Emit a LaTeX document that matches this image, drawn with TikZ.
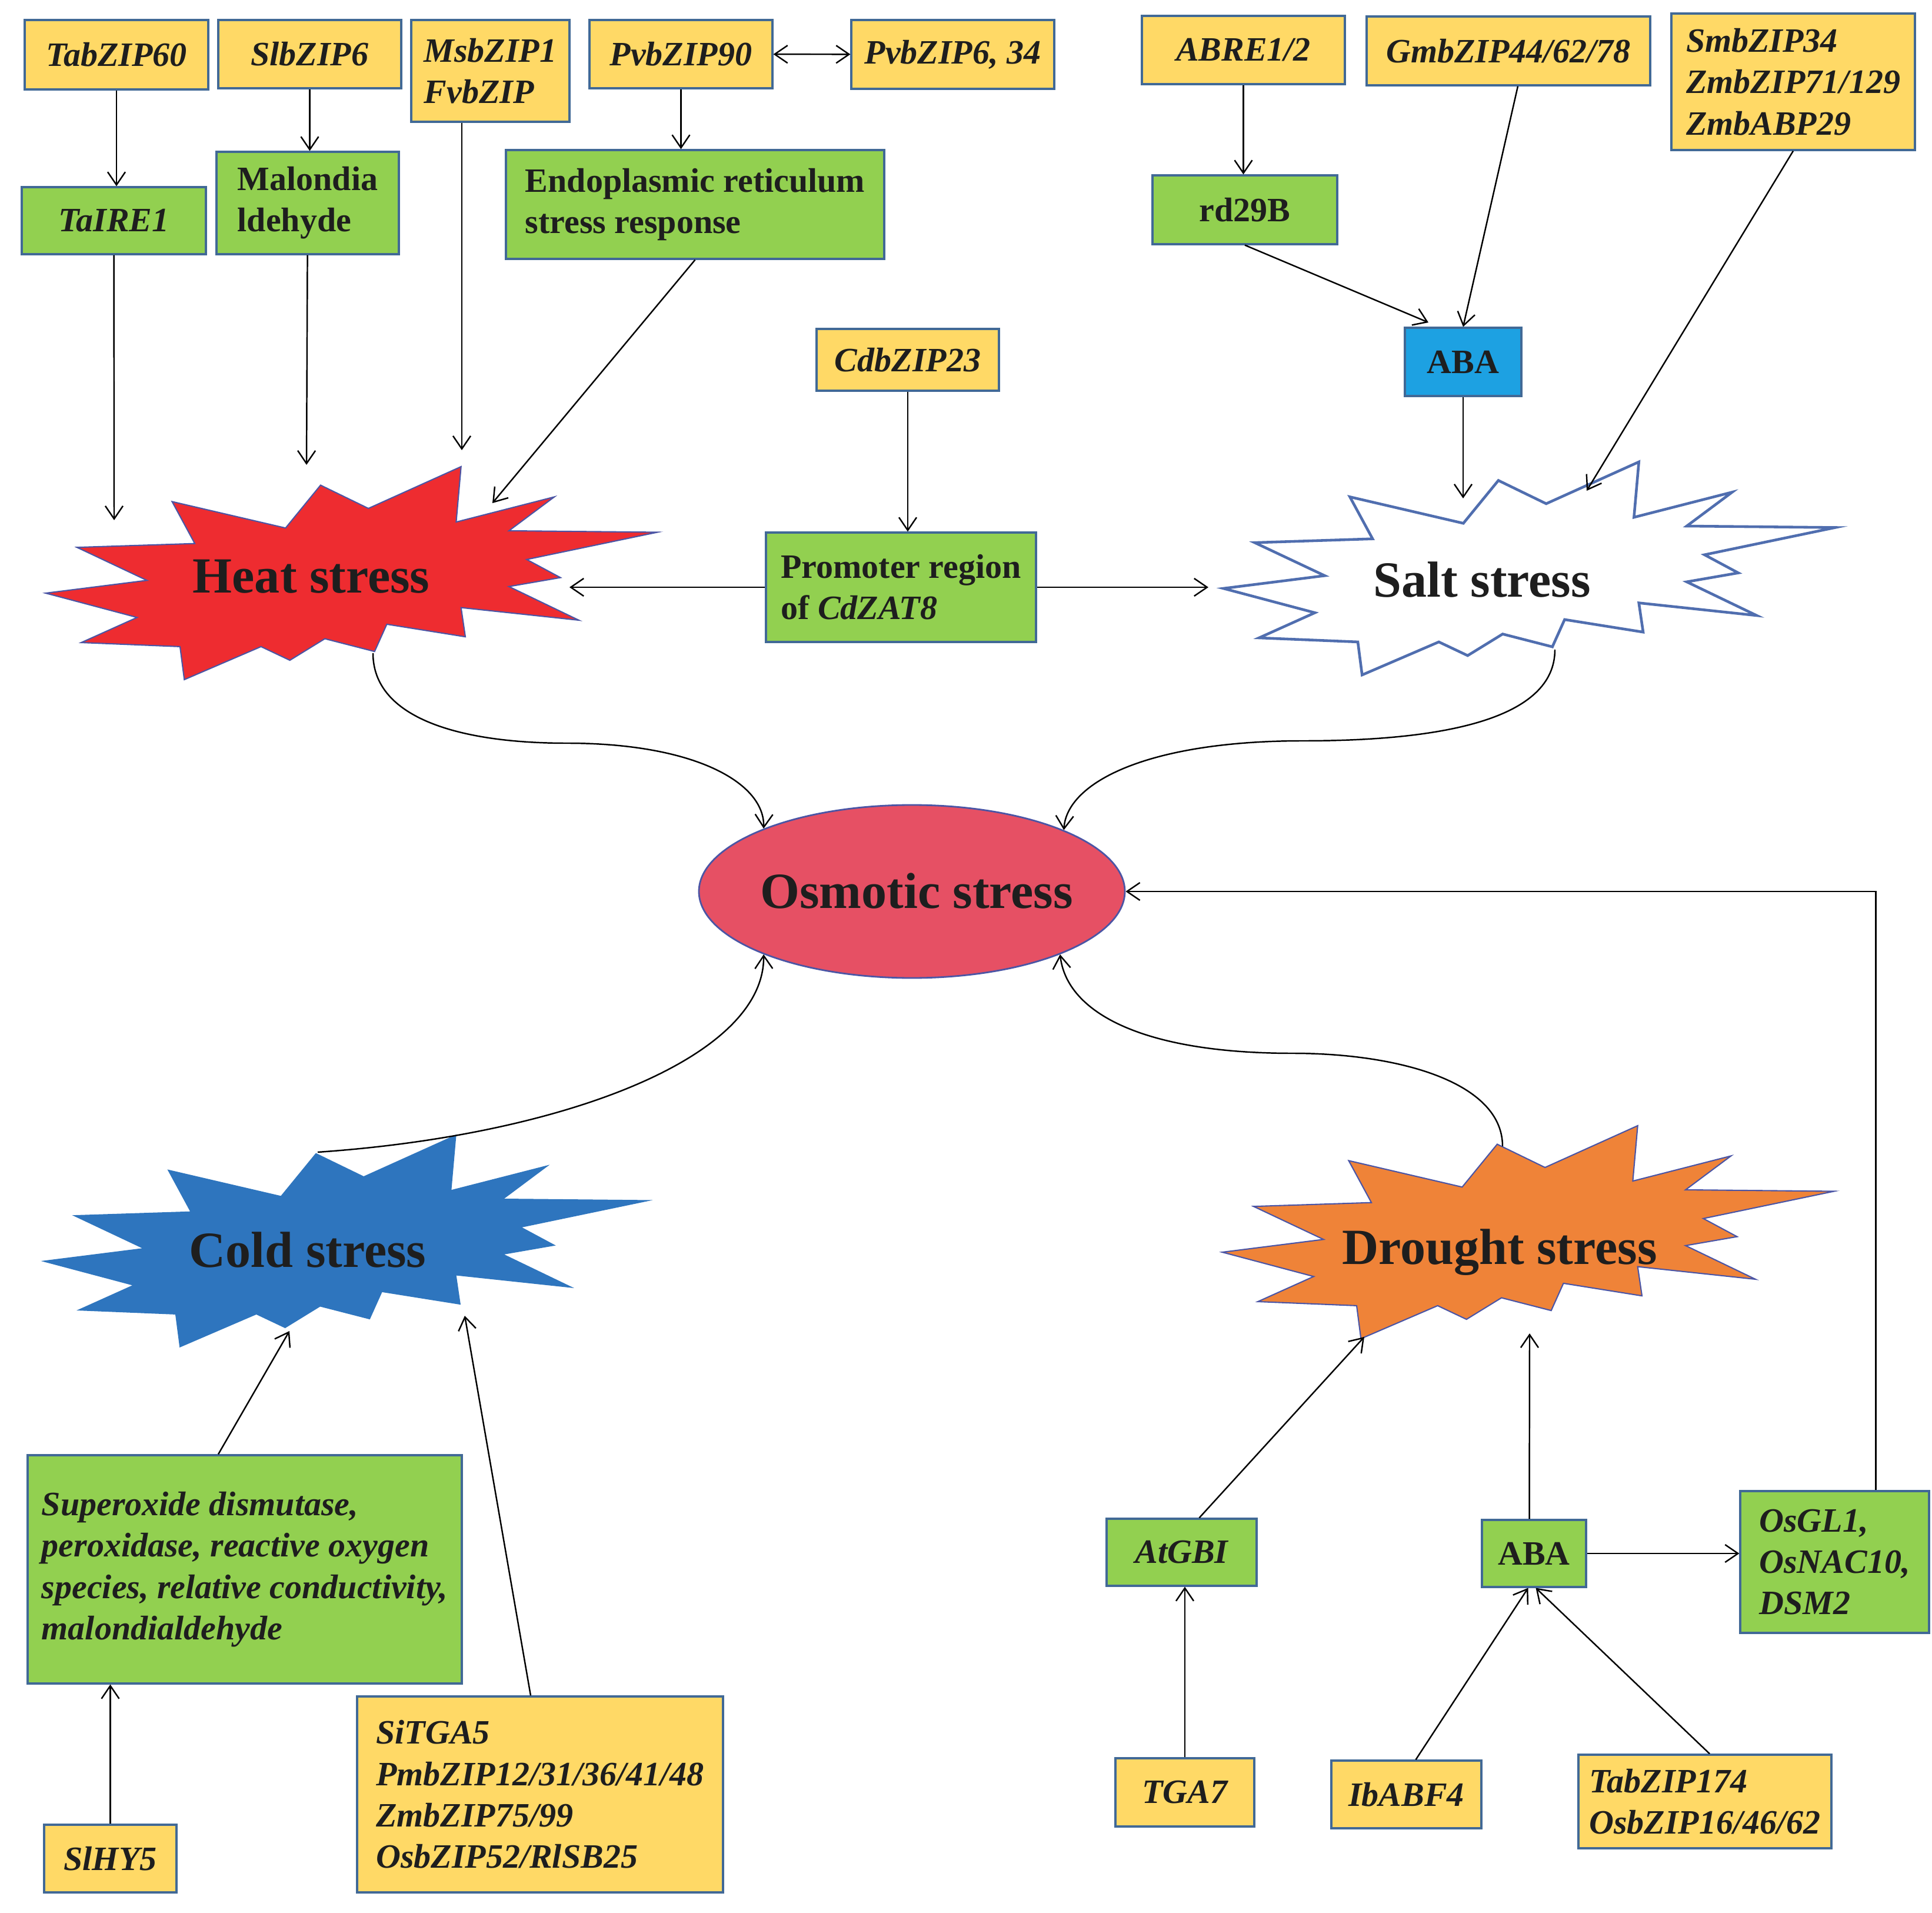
\documentclass[tikz,border=0pt]{standalone}
\usepackage{fontspec}
\setmainfont{Liberation Serif}
\usetikzlibrary{arrows.meta,shapes.geometric}
\definecolor{geneyellow}{RGB}{255,217,102}
\definecolor{effectgreen}{RGB}{146,208,80}
\definecolor{abablue}{RGB}{29,161,226}
\definecolor{boxedge}{RGB}{65,105,150}
\definecolor{starline}{RGB}{75,85,165}
\definecolor{saltline}{RGB}{80,110,175}
\definecolor{heatred}{RGB}{238,44,48}
\definecolor{coldblue}{RGB}{46,117,190}
\definecolor{droughtorange}{RGB}{239,131,56}
\definecolor{osmoticred}{RGB}{230,80,100}
\definecolor{labelgray}{RGB}{30,30,30}
\tikzset{%
	gene/.style     = {draw=boxedge, fill=geneyellow, line width=0.9pt, rectangle, align=left, inner sep=0pt, text=labelgray, font=\fontsize{16.5}{20}\selectfont\bfseries\itshape}, % bZIP genes
	effect/.style   = {draw=boxedge, fill=effectgreen, line width=0.9pt, rectangle, align=left, inner sep=0pt, text=labelgray, font=\fontsize{16.5}{20}\selectfont\bfseries}, % targets
	effectit/.style = {effect, font=\fontsize{16.5}{20}\selectfont\bfseries\itshape},
	hormone/.style  = {effect, fill=abablue},
	stress/.style   = {text=labelgray, font=\fontsize{24.5}{29}\selectfont\bfseries},
	arrow/.style    = {line width=0.7pt, >={Straight Barb[length=2.2mm,width=3mm]}, ->},
	burst/.pic      = {\path[pic actions] (1.877,1.810) -- (1.794,0.869) -- (3.463,1.296) -- (2.691,0.720) -- (5.215,0.695) -- (2.993,0.232) -- (3.567,-0.076) -- (2.691,-0.228) -- (3.880,-0.800) -- (1.877,-0.586) -- (1.950,-1.082) -- (0.615,-0.869) -- (0.407,-1.332) -- (-0.438,-1.115) -- (-1.033,-1.481) -- (-1.523,-1.249) -- (-2.827,-1.810) -- (-2.900,-1.249) -- (-4.579,-1.180) -- (-3.630,-0.753) -- (-5.184,-0.340) -- (-3.463,-0.123) -- (-4.652,0.438) -- (-2.649,0.503) -- (-3.035,1.216) -- (-1.106,0.767) -- (-0.511,1.495) -- (0.302,1.100) -- cycle;},
}
\begin{document}
\begin{tikzpicture}
	\useasboundingbox (0,0) rectangle (32.84,-32.51);
	% stresses
	\pic[fill=heatred, draw=starline, line width=0.6pt] at (5.96,-9.74) {burst};
	\pic[fill=white, draw=saltline, line width=1.3pt] at (25.98,-9.66) {burst};
	\pic[fill=coldblue] at (5.88,-21.09) {burst};
	\pic[fill=droughtorange, draw=starline, line width=0.6pt] at (25.96,-20.94) {burst};
	\node[stress] (heat) at (5.29,-9.80) {Heat stress};
	\node[stress] (salt) at (25.19,-9.85) {Salt stress};
	\node[stress] (cold) at (5.23,-21.24) {Cold stress};
	\node[stress] (drought) at (25.49,-21.28) {Drought stress};
	\node[ellipse, draw=starline, line width=0.8pt, fill=osmoticred, minimum width=7.24cm, minimum height=2.94cm, inner sep=0pt] (osmotic) at (15.50,-15.15) {};
	\node[stress] (osmoticlabel) at (15.58,-15.14) {Osmotic stress};
	
	% top row
	\node[gene, minimum width=3.12cm, minimum height=1.18cm] (tabzip60) at (1.98,-0.93) {TabZIP60};
	\node[gene, minimum width=3.11cm, minimum height=1.16cm] (slbzip6) at (5.265,-0.92) {SlbZIP6};
	\node[gene, minimum width=2.69cm, minimum height=1.73cm] (msbzip1) at (8.335,-1.205) {MsbZIP1\\FvbZIP};
	\node[gene, minimum width=3.11cm, minimum height=1.16cm] (pvbzip90) at (11.575,-0.92) {PvbZIP90};
	\node[gene, minimum width=3.45cm, minimum height=1.17cm] (pvbzip6) at (16.195,-0.925) {PvbZIP6, 34};
	\node[gene, minimum width=3.45cm, minimum height=1.16cm] (abre) at (21.135,-0.85) {ABRE1/2};
	\node[gene, minimum width=4.82cm, minimum height=1.17cm] (gmbzip) at (25.64,-0.865) {GmbZIP44/62/78};
	\node[gene, minimum width=4.14cm, minimum height=2.32cm] (smbzip) at (30.48,-1.39) {SmbZIP34\\ZmbZIP71/129\\ZmbABP29};
	\node[gene, minimum width=3.10cm, minimum height=1.05cm] (cdbzip23) at (15.43,-6.115) {CdbZIP23};
	\node[effectit, minimum width=3.13cm, minimum height=1.14cm] (taire1) at (1.935,-3.75) {TaIRE1};
	\node[effect, minimum width=3.10cm, minimum height=1.74cm] (malondia) at (5.23,-3.45) {Malondia\\ldehyde};
	\node[effect, minimum width=6.43cm, minimum height=1.85cm] (er) at (11.815,-3.475) {Endoplasmic reticulum\\stress response};
	\node[effect, minimum width=3.14cm, minimum height=1.17cm] (rd29b) at (21.16,-3.565) {rd29B};
	\node[hormone, minimum width=1.98cm, minimum height=1.16cm] (abasalt) at (24.87,-6.15) {ABA};
	\node[effect, minimum width=4.59cm, minimum height=1.86cm] (promoter) at (15.315,-9.98) {Promoter region\\of \textit{CdZAT8}};
	
	% bottom row
	\node[effectit, minimum width=7.38cm, minimum height=3.88cm] (superoxide) at (4.16,-26.67) {Superoxide dismutase,\\peroxidase, reactive oxygen\\species, relative conductivity,\\malondialdehyde};
	\node[gene, minimum width=2.25cm, minimum height=1.15cm] (slhy5) at (1.875,-31.585) {SlHY5};
	\node[gene, minimum width=6.22cm, minimum height=3.33cm] (sitga5) at (9.18,-30.495) {SiTGA5\\PmbZIP12/31/36/41/48\\ZmbZIP75/99\\OsbZIP52/RlSB25};
	\node[effectit, minimum width=2.55cm, minimum height=1.14cm] (atgbi) at (20.085,-26.38) {AtGBI};
	\node[effect, minimum width=1.77cm, minimum height=1.14cm] (abadrought) at (26.075,-26.40) {ABA};
	\node[effectit, minimum width=3.21cm, minimum height=2.41cm] (osgl1) at (31.185,-26.545) {OsGL1,\\OsNAC10,\\DSM2};
	\node[gene, minimum width=2.36cm, minimum height=1.16cm] (tga7) at (20.14,-30.46) {TGA7};
	\node[gene, minimum width=2.55cm, minimum height=1.15cm] (ibabf4) at (23.905,-30.495) {IbABF4};
	\node[gene, minimum width=4.30cm, minimum height=1.59cm] (tabzip174) at (28.98,-30.615) {TabZIP174\\OsbZIP16/46/62};
	
	\coordinate (heatA) at (1.94,-8.84);
	\coordinate (heatB) at (5.21,-7.90);
	\coordinate (heatC) at (7.85,-7.65);
	\coordinate (heatD) at (8.37,-8.55);
	\coordinate (heatE) at (9.68,-9.98);
	\coordinate (heatOut) at (6.34,-11.10);
	\coordinate (saltA) at (24.87,-8.47);
	\coordinate (saltB) at (26.97,-8.34);
	\coordinate (saltE) at (20.54,-9.98);
	\coordinate (saltOut) at (26.43,-11.04);
	\coordinate (abaIn) at (24.28,-5.48);
	\coordinate (coldA) at (4.92,-22.62);
	\coordinate (coldB) at (7.90,-22.36);
	\coordinate (coldOut) at (5.40,-19.58);
	\coordinate (droughtA) at (23.19,-22.72);
	\coordinate (droughtB) at (26.0,-22.66);
	\coordinate (droughtOut) at (25.54,-19.48);
	
	\draw[arrow] (tabzip60) -- (tabzip60 |- taire1.north);
	\draw[arrow] (slbzip6) -- (slbzip6 |- malondia.north);
	\draw[arrow] (pvbzip90) -- (pvbzip90 |- er.north);
	\draw[arrow,<->] (pvbzip90) -- (pvbzip6);
	\draw[arrow] (taire1) -- (heatA);
	\draw[arrow] (malondia) -- (heatB);
	\draw[arrow] (msbzip1.south -| heatC) -- (heatC);
	\draw[arrow] (er.south) -- (heatD);
	\draw[arrow] (cdbzip23) -- (cdbzip23 |- promoter.north);
	\draw[arrow] (promoter) -- (heatE);
	\draw[arrow] (promoter) -- (saltE);
	\draw[arrow] (abre) -- (abre |- rd29b.north);
	\draw[arrow] (rd29b.south) -- (abaIn);
	\draw[arrow] ([xshift=1.6mm]gmbzip.south) -- (abasalt.north);
	\draw[arrow] (smbzip.south) -- (saltB);
	\draw[arrow] (abasalt) -- (saltA);
	\draw[arrow] (heatOut) .. controls (6.34,-12.2) and (7.8,-12.63) .. (9.64,-12.63) .. controls (11.8,-12.63) and (13.0,-13.3) .. (osmotic.157);
	\draw[arrow] (saltOut) .. controls (26.43,-12.2) and (24.6,-12.59) .. (22.15,-12.59) .. controls (19.5,-12.59) and (18.13,-13.3) .. (osmotic.22);
	\draw[arrow] (coldOut) .. controls (9.5,-19.3) and (13.0,-18.0) .. (osmotic.203);
	\draw[arrow] (droughtOut) .. controls (25.54,-18.4) and (23.8,-17.9) .. (21.97,-17.9) .. controls (19.4,-17.9) and (18.13,-17.2) .. (osmotic.337);
	\draw[arrow] ([xshift=7mm]osgl1.north) |- (osmotic);
	\draw[arrow] ([xshift=-4.5mm]superoxide.north) -- (coldA);
	\draw[arrow] ([xshift=-1.6mm]sitga5.north) -- (coldB);
	\draw[arrow] (slhy5) -- (slhy5 |- superoxide.south);
	\draw[arrow] ([xshift=3mm]atgbi.north) -- (droughtA);
	\draw[arrow] ([xshift=-0.8mm]abadrought.north) -- (droughtB);
	\draw[arrow] (abadrought) -- (abadrought -| osgl1.west);
	\draw[arrow] (tga7) -- (tga7 |- atgbi.south);
	\draw[arrow] ([xshift=1.6mm]ibabf4.north) -- ([xshift=-1mm]abadrought.south);
	\draw[arrow] ([xshift=0.8mm]tabzip174.north) -- ([xshift=0.3mm]abadrought.south);
\end{tikzpicture}
\end{document}
